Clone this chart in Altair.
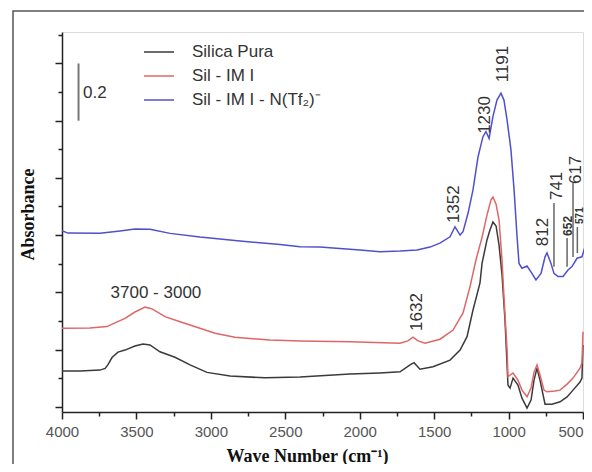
import altair as alt
import pandas as pd

# ---------------- data (wavenumber in cm-1, absorbance) ----------------
series_names = ["Silica Pura", "Sil - IM I", "Sil - IM I - N(Tf\u2082)\u207b"]
series_colors = ["#3a3a3a", "#e06666", "#5050cc"]

silica_wn = [4000, 3879, 3745, 3710, 3690, 3664, 3624, 3577, 3510, 3456, 3409, 3342, 3241,
             3140, 3026, 2871, 2636, 2401, 2065, 1864, 1729, 1662, 1635, 1595, 1508,
             1393, 1326, 1279, 1239, 1192, 1178, 1145, 1125, 1105, 1084, 1064, 1044,
             1024, 1004, 990, 970, 937, 910, 876, 849, 829, 809, 789, 755, 708, 654,
             607, 567, 520, 507, 500]
silica_ab = [0.125, 0.125, 0.128, 0.134, 0.148, 0.172, 0.191, 0.198, 0.212, 0.219, 0.216, 0.192, 0.173,
             0.146, 0.120, 0.107, 0.101, 0.104, 0.114, 0.118, 0.122, 0.146, 0.154, 0.131, 0.140,
             0.163, 0.198, 0.245, 0.338, 0.433, 0.502, 0.583, 0.618, 0.646, 0.632, 0.565, 0.461,
             0.303, 0.076, 0.065, 0.100, 0.076, 0.030, -0.005, 0.023, 0.093, 0.135, 0.093, 0.009,
             0.009, 0.017, 0.034, 0.058, 0.086, 0.100, 0.216]

imi_wn = [4000, 3812, 3698, 3644, 3577, 3510, 3442, 3395, 3308, 3207, 3073, 2972, 2838,
          2603, 2401, 2065, 1729, 1676, 1642, 1608, 1561, 1461, 1373, 1306, 1259, 1219,
          1178, 1145, 1118, 1105, 1084, 1064, 1044, 1031, 1010, 1004, 970, 937, 910, 876,
          849, 829, 809, 789, 762, 742, 688, 654, 607, 567, 520, 507, 500]
imi_ab = [0.274, 0.275, 0.280, 0.293, 0.309, 0.331, 0.348, 0.342, 0.315, 0.297, 0.274, 0.257, 0.243,
          0.233, 0.230, 0.227, 0.222, 0.230, 0.243, 0.230, 0.222, 0.236, 0.268, 0.328, 0.420, 0.513,
          0.593, 0.670, 0.723, 0.733, 0.708, 0.653, 0.513, 0.384, 0.198, 0.105, 0.118, 0.093, 0.058,
          0.035, 0.065, 0.121, 0.146, 0.111, 0.058, 0.052, 0.055, 0.058, 0.079, 0.100, 0.135, 0.153,
          0.262]

tf2_wn = [4000, 3960, 3745, 3610, 3510, 3409, 3274, 3073, 2804, 2535, 2401, 2267, 2179,
          1998, 1864, 1729, 1615, 1528, 1461, 1393, 1360, 1326, 1306, 1272, 1239, 1205,
          1172, 1152, 1131, 1105, 1078, 1051, 1031, 1010, 984, 963, 943, 930, 910, 876,
          843, 816, 782, 755, 742, 715, 695, 668, 634, 601, 574, 540, 507, 473, 446]
tf2_ab = [0.615, 0.607, 0.606, 0.614, 0.621, 0.620, 0.606, 0.593, 0.579, 0.567, 0.559, 0.558, 0.555,
          0.548, 0.542, 0.544, 0.548, 0.558, 0.572, 0.594, 0.629, 0.600, 0.612, 0.677, 0.758, 0.874,
          0.944, 0.962, 0.938, 1.014, 1.072, 1.096, 1.072, 1.002, 0.898, 0.758, 0.594, 0.501, 0.484,
          0.492, 0.466, 0.443, 0.466, 0.524, 0.538, 0.501, 0.466, 0.455, 0.455, 0.478, 0.490, 0.519,
          0.524, 0.583, 0.612]

# peak annotations
ann_text = ["1191", "1230", "1352", "812", "741", "617", "1632"]
ann_wn = [1037, 1158, 1367, 769, 675, 549, 1615]
ann_ab = [1.198, 1.020, 0.708, 0.611, 0.772, 0.828, 0.331]

small_text = ["652", "571"]
small_wn = [601, 517]
small_ab = [0.632, 0.668]
small_size = [12, 10]

band_text = ["3700 - 3000"]
band_wn = [3369]
band_ab = [0.398]

# leader lines under the small peak labels
lead_wn = [695, 607, 567, 538]
lead_y1 = [0.489, 0.489, 0.523, 0.537]
lead_y2 = [0.712, 0.590, 0.782, 0.628]

# 0.2 absorbance scale bar
bar_wn = [3889]
bar_y1 = [1.0]
bar_y2 = [1.2]
bar_label = ["0.2"]
bar_label_wn = [3859]
bar_label_ab = [1.097]

x_major = [4000, 3500, 3000, 2500, 2000, 1500, 1000, 500]
x_minor = [3750, 3250, 2750, 2250, 1750, 1250, 750]
y_major = [0.0, 0.2, 0.4, 0.6, 0.8, 1.0, 1.2]
y_minor = [0.1, 0.3, 0.5, 0.7, 0.9, 1.1, 1.3]

# ---------------- frames ----------------
rows = []
for name, wns, abs_ in zip(series_names, [silica_wn, imi_wn, tf2_wn], [silica_ab, imi_ab, tf2_ab]):
    for w, a in zip(wns, abs_):
        rows.append({"series": name, "wn": w, "ab": a})
df_lines = pd.DataFrame(rows)
df_ann = pd.DataFrame({"t": ann_text, "wn": ann_wn, "ab": ann_ab})
df_small = pd.DataFrame({"t": small_text, "wn": small_wn, "ab": small_ab, "s": small_size})
df_band = pd.DataFrame({"t": band_text, "wn": band_wn, "ab": band_ab})
df_lead = pd.DataFrame({"wn": lead_wn, "y1": lead_y1, "y2": lead_y2})
df_bar = pd.DataFrame({"wn": bar_wn, "y1": bar_y1, "y2": bar_y2})
df_barlab = pd.DataFrame({"t": bar_label, "wn": bar_label_wn, "ab": bar_label_ab})

W, H = 521, 380
xs = alt.Scale(domain=[500, 4000], reverse=True, nice=False, zero=False)
ys = alt.Scale(domain=[-0.0185, 1.31], nice=False, zero=False)

axis_common = dict(grid=False, domainColor="#222", domainWidth=1.5,
                   tickColor="#222", tickWidth=1.5)

x_axis = alt.Axis(values=x_major, tickSize=7, format="d", labelFontSize=15,
                  labelColor="#555", labelFont="Liberation Sans", labelPadding=5,
                  labelFlush=False, labelOverlap=False,
                  labelAlign={"condition": {"test": "datum.value === 500", "value": "right"},
                              "value": "center"},
                  title="Wave Number (cm\u207b\u00b9)", titleFont="Liberation Serif",
                  titleFontSize=18, titleFontWeight="bold", titleColor="#111",
                  titleX=245, titleY=44, titleAlign="center", titleBaseline="middle",
                  orient="bottom", **axis_common)
y_axis = alt.Axis(values=y_major, tickSize=7, labels=False,
                  title="Absorbance", titleFont="Liberation Serif", titleFontSize=18,
                  titleFontWeight="bold", titleColor="#111", titleX=-34, titleY=182,
                  titleAlign="center", titleBaseline="middle", titleAngle=270,
                  orient="left", **axis_common)
x_axis_minor = alt.Axis(values=x_minor, tickSize=4, labels=False, domain=False,
                        title=None, orient="bottom", grid=False, tickColor="#222", tickWidth=1.5)
y_axis_minor = alt.Axis(values=y_minor, tickSize=4, labels=False, domain=False,
                        title=None, orient="left", grid=False, tickColor="#222", tickWidth=1.5)

lines = alt.Chart(df_lines).mark_line(strokeWidth=1.5).encode(
    x=alt.X("wn:Q", scale=xs, axis=x_axis),
    y=alt.Y("ab:Q", scale=ys, axis=y_axis),
    color=alt.Color("series:N",
                    scale=alt.Scale(domain=series_names, range=series_colors),
                    legend=alt.Legend(orient="none", legendX=81, legendY=4, title=None,
                                      symbolType="stroke", symbolSize=900,
                                      symbolStrokeWidth=1.5, labelFontSize=17,
                                      labelFont="Liberation Sans", labelColor="#333",
                                      labelOffset=17, rowPadding=-11, padding=0)),
)

leads = alt.Chart(df_lead).mark_rule(color="#666", strokeWidth=1.5).encode(
    x=alt.X("wn:Q", scale=xs, axis=x_axis_minor),
    y=alt.Y("y1:Q", scale=ys, axis=y_axis_minor),
    y2="y2:Q",
)

bar = alt.Chart(df_bar).mark_rule(color="#777", strokeWidth=2).encode(
    x=alt.X("wn:Q", scale=xs, axis=None),
    y=alt.Y("y1:Q", scale=ys, axis=None),
    y2="y2:Q",
)

barlab = alt.Chart(df_barlab).mark_text(align="left", baseline="middle", fontSize=17,
                                        color="#333", font="Liberation Sans").encode(
    x=alt.X("wn:Q", scale=xs, axis=None),
    y=alt.Y("ab:Q", scale=ys, axis=None),
    text="t:N",
)

ann = alt.Chart(df_ann).mark_text(angle=270, align="center", baseline="middle",
                                  fontSize=17, color="#333", font="Liberation Sans").encode(
    x=alt.X("wn:Q", scale=xs, axis=None),
    y=alt.Y("ab:Q", scale=ys, axis=None),
    text="t:N",
)

small = alt.Chart(df_small).mark_text(angle=270, align="center", baseline="middle",
                                      fontWeight="bold", color="#333",
                                      font="Liberation Sans").encode(
    x=alt.X("wn:Q", scale=xs, axis=None),
    y=alt.Y("ab:Q", scale=ys, axis=None),
    size=alt.Size("s:Q", scale=None),
    text="t:N",
)

band = alt.Chart(df_band).mark_text(align="center", baseline="middle", fontSize=17,
                                    color="#333", font="Liberation Sans").encode(
    x=alt.X("wn:Q", scale=xs, axis=None),
    y=alt.Y("ab:Q", scale=ys, axis=None),
    text="t:N",
)

frame = alt.Chart(pd.DataFrame({"f": [0]})).mark_rect(
    fillOpacity=0, stroke="#555", strokeWidth=1.5).encode(
    x=alt.value(-49), x2=alt.value(W + 80), y=alt.value(-21), y2=alt.value(H + 120),
)

chart = alt.layer(frame, lines, leads, bar, barlab, ann, small, band).resolve_axis(
    x="independent", y="independent"
).properties(
    width=W, height=H,
    autosize=alt.AutoSizeParams(type="none"),
    padding={"left": 54, "top": 24, "right": 1, "bottom": 52},
    background="white",
).configure_view(stroke=None).configure(font="Liberation Sans")

chart.save("out.html", embed_options={"renderer": "svg", "actions": False})
